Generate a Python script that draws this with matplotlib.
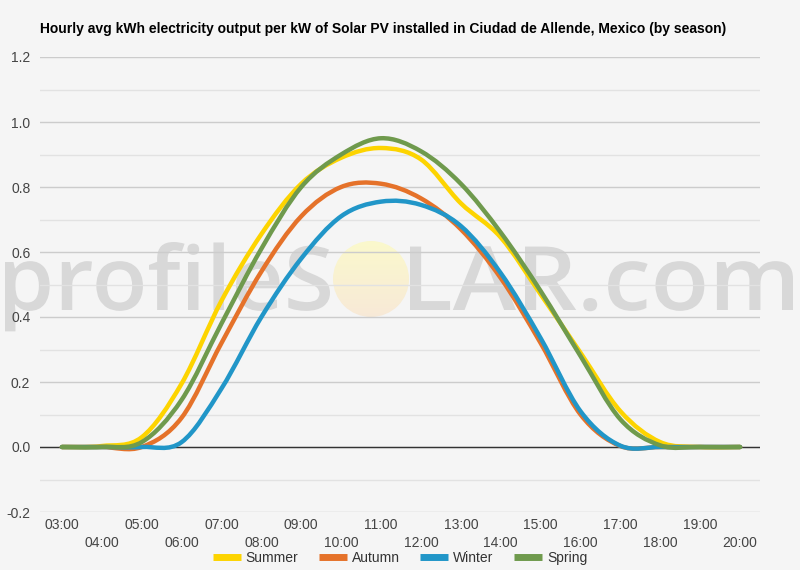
import matplotlib
matplotlib.use("Agg")
import matplotlib.pyplot as plt
import numpy as np
from matplotlib.path import Path
from matplotlib.patches import PathPatch, Circle
from matplotlib.lines import Line2D
from matplotlib.textpath import TextPath
from matplotlib.font_manager import FontProperties
from matplotlib.transforms import Affine2D

# hourly values, 03:00 .. 20:00
hours = list(range(3, 21))
hour_labels = ["%02d:00" % h for h in hours]

summer = [0.0, 0.003, 0.03, 0.195, 0.45, 0.655, 0.81, 0.89, 0.92, 0.885, 0.75, 0.645, 0.47, 0.29, 0.11, 0.015, 0.0, 0.0]
autumn = [0.0, 0.0, 0.0, 0.09, 0.32, 0.54, 0.71, 0.80, 0.81, 0.765, 0.67, 0.52, 0.32, 0.10, 0.003, 0.0, 0.0, 0.0]
winter = [0.0, 0.0, 0.0, 0.015, 0.18, 0.40, 0.58, 0.71, 0.755, 0.745, 0.68, 0.535, 0.335, 0.11, 0.004, 0.0, 0.0, 0.0]
spring = [0.0, 0.0, 0.015, 0.145, 0.38, 0.61, 0.80, 0.90, 0.95, 0.91, 0.81, 0.66, 0.48, 0.28, 0.085, 0.005, 0.0, 0.0]

series = [("Summer", summer, "#fdd400"),
          ("Autumn", autumn, "#e5722a"),
          ("Winter", winter, "#2196c8"),
          ("Spring", spring, "#6f9a4d")]

title = "Hourly avg kWh electricity output per kW of Solar PV installed in Ciudad de Allende, Mexico (by season)"

plt.rcParams['font.family'] = ['Liberation Sans', 'DejaVu Sans']

W, H = 800, 570
fig = plt.figure(figsize=(W / 100, H / 100), dpi=100, facecolor="#f5f5f5")

# background layer in pixel coords for the watermark
bg = fig.add_axes([0, 0, 1, 1], zorder=0)
bg.set_xlim(0, W)
bg.set_ylim(H, 0)
bg.axis("off")

wm_prop = FontProperties(family="Open Sans", weight="semibold")


def text_box(s, x0, x1, baseline, sy=None, top=None):
    tp = TextPath((0, 0), s, size=1, prop=wm_prop)
    ext = tp.get_extents()
    sx = (x1 - x0) / ext.width
    if sy is None:
        sy = (baseline - top) / ext.y1
    tr = Affine2D().translate(-ext.x0, 0).scale(sx, -sy).translate(x0, baseline)
    bg.add_patch(PathPatch(tr.transform_path(tp), facecolor="#d8d8d8",
                           edgecolor="none"))
    return sy


sy = text_box("profileS", 5, 330, 310, top=242)
text_box("LAR.com", 410, 793, 310, sy=sy)

grad = np.linspace(0, 1, 64)[:, None]
top_c = np.array([0.984, 0.976, 0.80])
bot_c = np.array([0.972, 0.915, 0.845])
img = top_c[None, None, :] * (1 - grad[..., None]) + bot_c[None, None, :] * grad[..., None]
im = bg.imshow(np.repeat(img, 4, axis=1), extent=(333, 409, 317, 241), aspect="auto")
sun = Circle((371, 279), 38, transform=bg.transData)
im.set_clip_path(sun)
bg.set_xlim(0, W)
bg.set_ylim(H, 0)

ax = fig.add_axes([40 / W, 1 - 512 / H, 720 / W, 455 / H], zorder=1)
ax.set_facecolor("none")


def smooth_path(xs, ys):
    pts = np.column_stack([xs, ys]).astype(float)
    n = len(pts)
    verts = [pts[0]]
    codes = [Path.MOVETO]
    for i in range(n - 1):
        p0 = pts[max(i - 1, 0)]
        p1 = pts[i]
        p2 = pts[i + 1]
        p3 = pts[min(i + 2, n - 1)]
        c1 = p1 + (p2 - p0) / 6.0
        c2 = p2 - (p3 - p1) / 6.0
        verts += [c1, c2, p2]
        codes += [Path.CURVE4] * 3
    return Path(verts, codes)


ax.axhline(0, color="#333333", lw=1, zorder=2)
handles = []
for name, vals, col in series:
    ax.add_patch(PathPatch(smooth_path(hours, vals), fill=False, edgecolor=col,
                           lw=3.2, capstyle="round", joinstyle="round", zorder=3))
    handles.append(Line2D([], [], color=col, lw=5, solid_capstyle="butt", label=name))

ax.set_xlim(2.45, 20.5)
ax.set_ylim(-0.2, 1.2)
ax.set_yticks(np.arange(-0.2, 1.21, 0.2))
ax.set_yticklabels(["%.1f" % v for v in np.arange(-0.2, 1.21, 0.2)])
ax.set_yticks(np.arange(-0.1, 1.2, 0.2), minor=True)
ax.grid(axis="y", which="major", color="#cccccc", lw=1, zorder=1)
ax.grid(axis="y", which="minor", color="#e2e2e2", lw=1, zorder=1)

ax.set_xticks(hours[::2], hour_labels[::2])
ax.set_xticks(hours[1::2], hour_labels[1::2], minor=True)
ax.tick_params(axis="x", which="major", length=0, pad=4, labelsize=10, colors="#444444")
ax.tick_params(axis="x", which="minor", length=0, pad=17, labelsize=10, colors="#444444")
ax.tick_params(axis="y", which="both", length=0, pad=7, labelsize=10, colors="#444444")
for s in ax.spines.values():
    s.set_visible(False)

fig.text(40 / W, 1 - 29 / H, title, fontsize=10, fontweight="bold", color="#000000",
         ha="left", va="center")

fig.legend(handles=handles, loc="center", bbox_to_anchor=(0.5, 1 - 558 / H), ncol=4,
           frameon=False, fontsize=10, handlelength=2.0, handletextpad=0.35,
           columnspacing=1.5, labelcolor="#333333")

fig.savefig("out.png", dpi=100, facecolor=fig.get_facecolor())
